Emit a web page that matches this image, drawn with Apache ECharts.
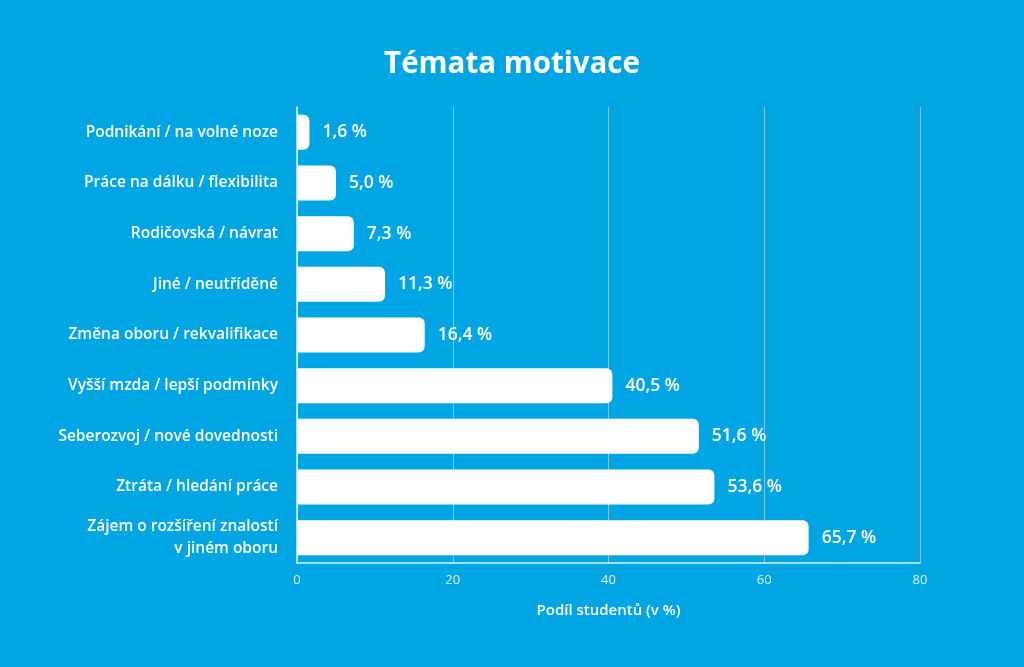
<!DOCTYPE html>
<html>
<head>
<meta charset="utf-8">
<title>Témata motivace</title>
<script src="https://cdn.jsdelivr.net/npm/echarts@6/dist/echarts.min.js"></script>
<style>
  html, body { margin: 0; padding: 0; background: #00a6e4; }
  #chart { width: 1024px; height: 667px; }
</style>
</head>
<body>
<div id="chart"></div>
<script>
// data, top to bottom as in the picture
var categories = [
    'Podnikání / na volné noze',
    'Práce na dálku / flexibilita',
    'Rodičovská / návrat',
    'Jiné / neutříděné',
    'Změna oboru / rekvalifikace',
    'Vyšší mzda / lepší podmínky',
    'Seberozvoj / nové dovednosti',
    'Ztráta / hledání práce',
    'Zájem o rozšíření znalostí\nv jiném oboru'
];
var values = [1.6, 5.0, 7.3, 11.3, 16.4, 40.5, 51.6, 53.6, 65.7];
var xTicks = [0, 20, 40, 60, 80];

var chart = echarts.init(document.getElementById('chart'));
var font = '"Open Sans", "Noto Sans", sans-serif';

chart.setOption({
    backgroundColor: '#00a6e4',
    animation: false,
    title: {
        text: 'Témata motivace',
        left: 'center',
        top: 45,
        textStyle: { color: '#fff', fontSize: 29.5, fontWeight: 'bold', fontFamily: font }
    },
    grid: { left: 297, right: 104, top: 107, bottom: 104 },
    xAxis: {
        type: 'value',
        min: xTicks[0],
        max: xTicks[xTicks.length - 1],
        interval: 20,
        name: 'Podíl studentů (v %)',
        nameLocation: 'middle',
        nameGap: 40,
        nameTextStyle: { color: '#fff', fontSize: 15, fontWeight: 600, fontFamily: font },
        axisLine: { show: true, lineStyle: { color: 'rgba(255,255,255,0.85)', width: 1.5 } },
        axisTick: { show: false },
        axisLabel: { color: 'rgba(255,255,255,0.85)', fontSize: 13, margin: 11, fontFamily: font },
        splitLine: { show: true, lineStyle: { color: 'rgba(255,255,255,0.45)', width: 1 } }
    },
    yAxis: {
        type: 'category',
        inverse: true,
        data: categories,
        axisLine: { show: true, lineStyle: { color: 'rgba(255,255,255,0.85)', width: 1.5 } },
        axisTick: { show: false },
        axisLabel: {
            color: '#fff', fontSize: 15.5, fontWeight: 600, fontFamily: font,
            margin: 19, align: 'right', lineHeight: 22
        }
    },
    series: [{
        type: 'bar',
        data: values,
        barWidth: 35,
        itemStyle: { color: '#fff', borderRadius: [0, 6, 6, 0] },
        label: {
            show: true,
            position: 'right',
            distance: 13,
            color: '#fff',
            fontSize: 17.5,
            fontWeight: 600,
            fontFamily: font,
            formatter: function (p) {
                return p.value.toFixed(1).replace('.', ',') + ' %';
            }
        }
    }]
});
</script>
</body>
</html>
